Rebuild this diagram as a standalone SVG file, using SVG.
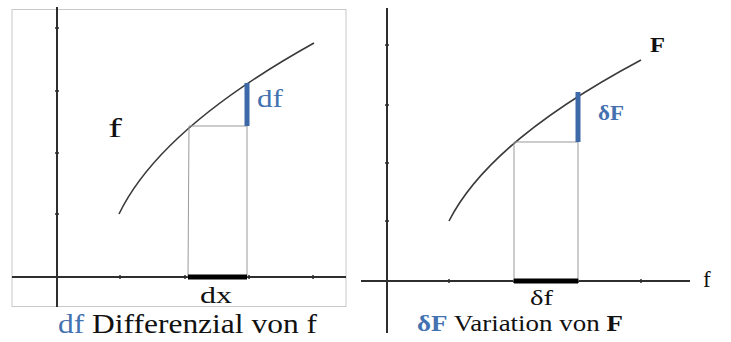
<svg xmlns="http://www.w3.org/2000/svg" width="731" height="342" viewBox="0 0 731 342">
<style>
.axis{stroke:#2e2e2e;stroke-width:2;fill:none}
.tick{stroke:#2e2e2e;stroke-width:1.5}
.curve{stroke:#3a3a3a;stroke-width:1.6;fill:none}
.thin{stroke:#9a9a9a;stroke-width:1;fill:none}
.bar{stroke:#3e69a8;stroke-width:5}
.bbar{stroke:#000;stroke-width:5}
.t{font-family:"Liberation Serif","Times New Roman",serif;fill:#111}
.b{font-weight:bold}
.blue{fill:#4472b0}
</style>
<rect width="731" height="342" fill="#fff"/>
<g id="left-panel">
<rect x="12" y="9.5" width="334" height="297" fill="none" stroke="#c8c8c8" stroke-width="1"/>
<line class="axis" x1="57" y1="7" x2="57" y2="307"/>
<line class="axis" x1="12" y1="277" x2="346" y2="277"/>
<g class="tick">
<line x1="55" y1="28" x2="59" y2="28"/><line x1="55" y1="91" x2="59" y2="91"/><line x1="55" y1="153" x2="59" y2="153"/><line x1="55" y1="214" x2="59" y2="214"/>
<line x1="120" y1="275" x2="120" y2="279"/><line x1="185" y1="275" x2="185" y2="279"/><line x1="249" y1="275" x2="249" y2="279"/><line x1="313" y1="275" x2="313" y2="279"/>
</g>
<path class="curve" d="M119,214 Q160.4,128.5 314,43"/>
<path class="thin" d="M189,126 L188,277 M247,126 L247,277 M189,126 L247,126"/>
<line class="bar" x1="247" y1="83" x2="247" y2="126"/>
<line class="bbar" x1="188" y1="277" x2="247" y2="277"/>
<text class="t" x="108" y="137" font-size="27" textLength="14" lengthAdjust="spacingAndGlyphs">f</text>
<text class="t blue" x="257" y="107" font-size="26" textLength="26" lengthAdjust="spacingAndGlyphs">df</text>
<text class="t" x="200" y="303" font-size="24" textLength="32" lengthAdjust="spacingAndGlyphs">dx</text>
<text class="t" x="58" y="333" font-size="27" textLength="259" lengthAdjust="spacingAndGlyphs"><tspan class="blue">df</tspan> Differenzial von f</text>
</g>
<g id="right-panel">
<line class="axis" x1="387" y1="8" x2="387" y2="333"/>
<line class="axis" x1="361" y1="281" x2="690" y2="281"/>
<g class="tick">
<line x1="385" y1="45" x2="389" y2="45"/><line x1="385" y1="105" x2="389" y2="105"/><line x1="385" y1="163" x2="389" y2="163"/><line x1="385" y1="221" x2="389" y2="221"/>
<line x1="449" y1="279" x2="449" y2="283"/><line x1="514" y1="279" x2="514" y2="283"/><line x1="578" y1="279" x2="578" y2="283"/><line x1="641" y1="279" x2="641" y2="283"/>
</g>
<path class="curve" d="M449,221 Q489.9,140.5 641,60"/>
<path class="thin" d="M514,142 L514,281 M578,142 L578,281 M514,142 L578,142"/>
<line class="bar" x1="578" y1="92" x2="578" y2="142"/>
<line class="bbar" x1="514" y1="281" x2="578" y2="281"/>
<text class="t b" x="650" y="52" font-size="22" textLength="15" lengthAdjust="spacingAndGlyphs">F</text>
<text class="t b blue" x="598" y="120" font-size="22" textLength="26" lengthAdjust="spacingAndGlyphs">δF</text>
<text class="t" x="703" y="287" font-size="23">f</text>
<text class="t" x="530" y="305" font-size="22" textLength="23" lengthAdjust="spacingAndGlyphs">δf</text>
<text class="t" x="417" y="331" font-size="23" textLength="206" lengthAdjust="spacingAndGlyphs"><tspan class="b blue">δF</tspan> Variation von <tspan class="b">F</tspan></text>
</g>
</svg>
